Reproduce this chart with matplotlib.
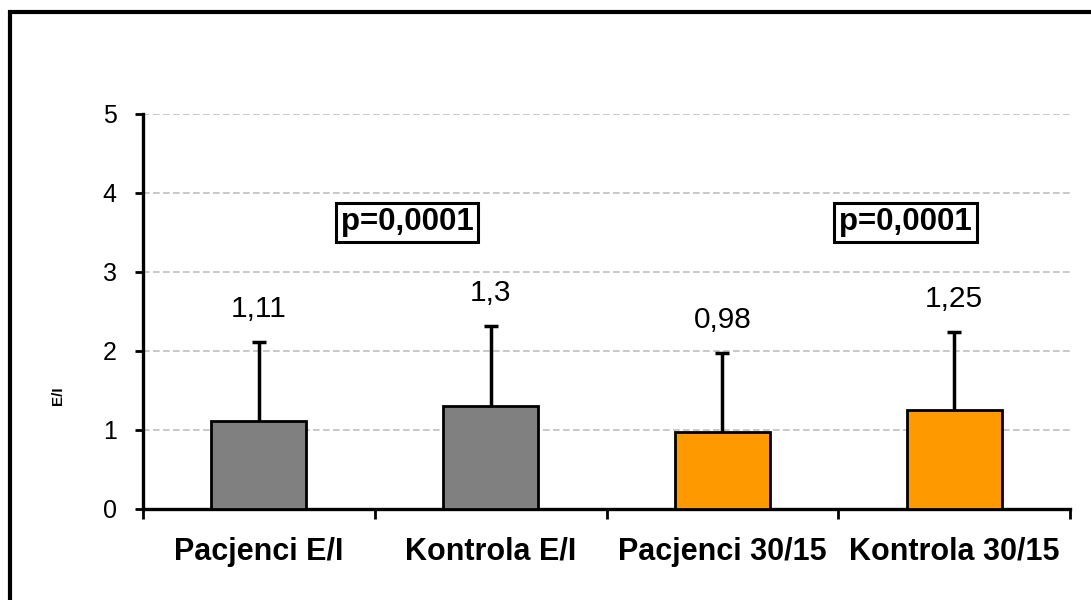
"""Bar chart of E/I and 30/15 ratios, patients vs. controls, with upper SD whiskers."""

import matplotlib.pyplot as plt
from matplotlib.patches import Rectangle

plt.rcParams["font.family"] = ["Liberation Sans", "DejaVu Sans"]

categories = ["Pacjenci E/I", "Kontrola E/I", "Pacjenci 30/15", "Kontrola 30/15"]
means = [1.11, 1.3, 0.98, 1.25]
sd_upper = [1.0, 1.02, 0.99, 0.99]
value_labels = ["1,11", "1,3", "0,98", "1,25"]
bar_colors = ["#808080", "#808080", "#FF9900", "#FF9900"]
p_labels = ["p=0,0001", "p=0,0001"]
p_positions = [0.64, 2.79]
p_height = 3.63
y_ticks = [0, 1, 2, 3, 4, 5]


def main() -> int:
    fig = plt.figure(figsize=(10.91, 6.0), dpi=100)
    ax = fig.add_axes([0.1311, 0.1517, 0.8497, 0.6583])

    x = list(range(len(categories)))
    ax.bar(x, means, width=0.41, color=bar_colors, edgecolor="black",
           linewidth=2.0, zorder=3)
    eb = ax.errorbar(x, means, yerr=[[0] * len(means), sd_upper], fmt="none",
                     ecolor="black", elinewidth=2.5, capsize=5, capthick=2.5,
                     zorder=4)
    # only the upper whisker gets a cap
    eb[1][0].set_visible(False)

    for xi, m, s, lab in zip(x, means, sd_upper, value_labels):
        ax.text(xi, m + s + 0.42, lab, ha="center", va="center", fontsize=21.5)

    for xp, lab in zip(p_positions, p_labels):
        ax.text(xp, p_height, lab, ha="center", va="center", fontsize=22.5,
                fontweight="bold",
                bbox=dict(boxstyle="square,pad=0.15", facecolor="white",
                          edgecolor="black", linewidth=2.2))

    ax.set_xlim(-0.5, 3.5)
    ax.set_ylim(0, 5)
    ax.set_yticks(y_ticks)
    ax.set_yticklabels([str(t) for t in y_ticks], fontsize=18)
    ax.yaxis.grid(True, color="#c0c0c0", linestyle=(0, (4, 2)), linewidth=1.2,
                  zorder=0)
    ax.set_axisbelow(True)

    ax.set_xticks([-0.5, 0.5, 1.5, 2.5, 3.5])
    ax.set_xticklabels([])
    ax.set_xticks(x, minor=True)
    ax.set_xticklabels(categories, minor=True, fontsize=22, fontweight="bold")
    ax.tick_params(axis="x", which="minor", length=0, pad=20)
    ax.tick_params(axis="x", which="major", length=7, width=2, direction="out")
    ax.tick_params(axis="y", length=6, width=2, direction="out", pad=13)

    for side in ("top", "right"):
        ax.spines[side].set_visible(False)
    for side in ("left", "bottom"):
        ax.spines[side].set_linewidth(2.4)

    fig.text(0.053, 0.34, "E/I", rotation=90, fontsize=11, fontweight="bold",
             ha="center", va="center")

    # frame around the whole chart area (runs off the right and bottom edges)
    fig.add_artist(Rectangle((0.0096, -0.1), 1.2, 0.1 + 0.9795, fill=False,
                             edgecolor="black", linewidth=3,
                             joinstyle="miter", transform=fig.transFigure))

    fig.savefig("out.png", dpi=100, facecolor="white")
    plt.close(fig)
    return 0


if __name__ == "__main__":
    raise SystemExit(main())
